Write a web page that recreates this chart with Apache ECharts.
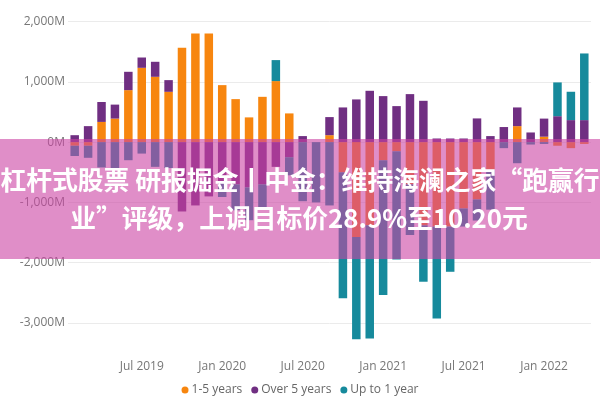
<!DOCTYPE html>
<html>
<head>
<meta charset="utf-8">
<title>chart</title>
<script src="https://cdn.jsdelivr.net/npm/echarts@6/dist/echarts.min.js"></script>
<style>
    html, body { margin: 0; padding: 0; background: #fff; }
    #main { width: 600px; height: 400px; }
</style>
</head>
<body>
<div id="main"></div>
<script>
// 月份 (2019-02 ~ 2022-04)
var months = ['2019-02','2019-03','2019-04','2019-05','2019-06','2019-07','2019-08','2019-09','2019-10','2019-11','2019-12',
    '2020-01','2020-02','2020-03','2020-04','2020-05','2020-06','2020-07','2020-08','2020-09','2020-10','2020-11','2020-12',
    '2021-01','2021-02','2021-03','2021-04','2021-05','2021-06','2021-07','2021-08','2021-09','2021-10','2021-11','2021-12',
    '2022-01','2022-02','2022-03','2022-04'];
var monthNames = ['Jan','Feb','Mar','Apr','May','Jun','Jul','Aug','Sep','Oct','Nov','Dec'];

// 数值 (M)
var oneToFive = [-60, -60, 335, 390, 862, 1232, 1083, 834, 1565, 1800, 1800,
    945, 713, 410, 751, 1012, 476, 0, 0, 115, -500, -1575, -1380,
    -300, -150, -700, -1380, -1400, -1400, -1100, -950, -460, 0, 265, 0,
    90, -60, -100, -30];
var overFive = [115, 265, 330, 232, 304, 171, 249, 194, -1150, -1050, -900,
    -650, -700, -750, -700, -410, -250, 100, 0, 300, 575, 708, 851,
    763, 597, 796, 685, 60, 60, 60, 393, 100, 250, 310, 160,
    300, 430, 365, 365];
var upToOne = [-170, -200, -420, -430, -300, -190, -410, -430, 0, 0, 0,
    -260, -430, -545, -380, 348, -300, -980, -1000, -1050, -2090, -1695, -1875,
    -2235, -1795, -840, -935, -1525, -750, -300, -350, -660, -100, -350, -40,
    -30, 560, 470, 1105];

var seriesNames = ['1-5 years', 'Over 5 years', 'Up to 1 year'];
var seriesColors = ['#F7860F', '#702F82', '#168A9C'];

// 横幅文字
var bannerLines = ['杠杆式股票 研报掘金丨中金：维持海澜之家“跑赢行', '业”评级，上调目标价28.9%至10.20元'];

var myChart = echarts.init(document.getElementById('main'));

function makeBar(name, data, color) {
    return {
        name: name,
        type: 'bar',
        stack: 'total',
        barWidth: 8.5,
        itemStyle: { color: color },
        data: data
    };
}

var option = {
    animation: false,
    textStyle: { fontFamily: '"Open Sans", sans-serif' },
    color: seriesColors,
    grid: {
        left: 68,
        right: 9,
        top: 21.5,
        bottom: 46.8
    },
    legend: {
        data: seriesNames,
        left: 'center',
        top: 379,
        icon: 'circle',
        itemWidth: 7,
        itemHeight: 7,
        itemGap: 9,
        textStyle: { color: '#666', fontSize: 12, padding: [0, 0, 0, -2] }
    },
    xAxis: {
        type: 'category',
        data: months,
        axisLine: { show: false },
        axisTick: { show: false },
        axisLabel: {
            color: '#777',
            fontSize: 12,
            margin: 7,
            interval: function (index, value) {
                var m = value.split('-')[1];
                return m === '01' || m === '07';
            },
            formatter: function (value) {
                var p = value.split('-');
                return monthNames[parseInt(p[1], 10) - 1] + ' ' + p[0];
            }
        }
    },
    yAxis: {
        type: 'value',
        min: -3500,
        max: 2000,
        interval: 500,
        axisLine: { show: false },
        axisTick: { show: false },
        axisLabel: {
            color: '#777',
            fontSize: 12,
            margin: 3,
            formatter: function (v) {
                if (v % 1000 !== 0) return '';
                return v.toLocaleString('en-US') + 'M';
            }
        },
        splitLine: {
            lineStyle: { color: ['rgba(0,0,0,0)', '#ebebeb'], width: 1 }
        }
    },
    series: [
        makeBar(seriesNames[0], oneToFive, seriesColors[0]),
        makeBar(seriesNames[1], overFive, seriesColors[1]),
        makeBar(seriesNames[2], upToOne, seriesColors[2])
    ],
    graphic: [
        {
            type: 'rect',
            z: 100,
            shape: { x: 0, y: 139, width: 600, height: 120 },
            style: { fill: 'rgba(203,67,163,0.6)' }
        },
        {
            type: 'text',
            z: 101,
            style: {
                text: bannerLines[0],
                x: 300,
                y: 180,
                textAlign: 'center',
                textVerticalAlign: 'middle',
                fill: '#fff',
                font: 'bold 25.8px "Noto Sans CJK SC"'
            }
        },
        {
            type: 'text',
            z: 101,
            style: {
                text: bannerLines[1],
                x: 299,
                y: 218,
                textAlign: 'center',
                textVerticalAlign: 'middle',
                fill: '#fff',
                font: 'bold 25.8px "Noto Sans CJK SC"'
            }
        }
    ]
};

myChart.setOption(option);
</script>
</body>
</html>
